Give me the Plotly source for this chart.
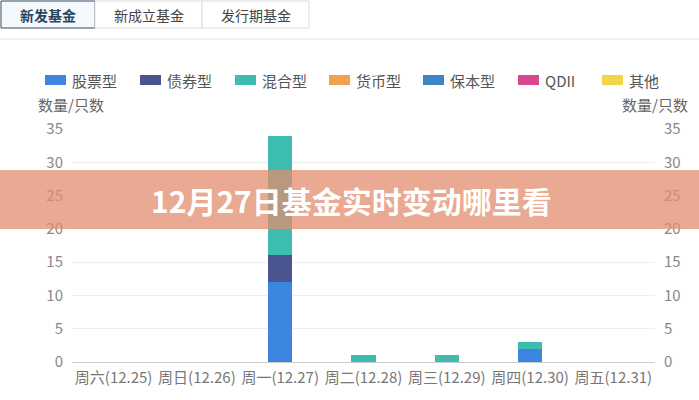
import plotly.graph_objects as go

categories = ["周六(12.25)", "周日(12.26)", "周一(12.27)", "周二(12.28)",
              "周三(12.29)", "周四(12.30)", "周五(12.31)"]
series_names = ["股票型", "债券型", "混合型", "货币型", "保本型", "QDII", "其他"]
stock = [0, 0, 12, 0, 0, 2, 0]
bond = [0, 0, 4, 0, 0, 0, 0]
mixed = [0, 0, 18, 1, 1, 1, 0]
money = [0, 0, 0, 0, 0, 0, 0]
guaranteed = [0, 0, 0, 0, 0, 0, 0]
qdii = [0, 0, 0, 0, 0, 0, 0]
other = [0, 0, 0, 0, 0, 0, 0]
y_ticks = [0, 5, 10, 15, 20, 25, 30, 35]
tabs = ["新发基金", "新成立基金", "发行期基金"]
y_title = "数量/只数"
banner_text = "12月27日基金实时变动哪里看"

colors = ["#3a86e0", "#4a5590", "#3dbdb0", "#f0a050", "#3f86c8", "#d9488f", "#f0d54a"]
values = [stock, bond, mixed, money, guaranteed, qdii, other]

FONT = "Noto Sans CJK SC"
W, H = 699, 400
L, R, T, B = 72, 655, 129, 362


def px(x):
    return (x - L) / (R - L)


def py(y):
    return (B - y) / (B - T)


fig = go.Figure()
for name, vals, col in zip(series_names, values, colors):
    fig.add_trace(go.Bar(x=categories, y=vals, name=name, marker_color=col,
                         marker_line_width=0, width=0.29))
# invisible trace for right axis
fig.add_trace(go.Scatter(x=categories, y=mixed, yaxis="y2", mode="markers",
                         marker=dict(opacity=0), showlegend=False, hoverinfo="skip"))

shapes = []
annotations = []
# tabs
tab_edges = [(1, 95), (95, 202), (202, 309)]
for i, (label, (x0, x1)) in enumerate(zip(tabs, tab_edges)):
    shapes.append(dict(type="rect", xref="paper", yref="paper",
                       x0=px(x0), x1=px(x1), y0=py(28), y1=py(1),
                       fillcolor="#f6f9fc" if i == 0 else "#ffffff",
                       line=dict(color="#2f4a66" if i == 0 else "#dddddd", width=1),
                       layer="above"))
    annotations.append(dict(xref="paper", yref="paper", x=px((x0 + x1) / 2), y=py(15),
                            text=f"<b>{label}</b>" if i == 0 else label, showarrow=False,
                            font=dict(family=FONT, size=14,
                                      color="#2a4560" if i == 0 else "#444444"),
                            xanchor="center", yanchor="middle"))
shapes.append(dict(type="line", xref="paper", yref="paper", x0=px(0), x1=px(699),
                   y0=py(39), y1=py(39), line=dict(color="#e3e3e3", width=1)))

# legend (drawn manually for exact spacing)
legend_x = [45, 140, 235, 329, 423, 518, 602]
for name, col, lx in zip(series_names, colors, legend_x):
    shapes.append(dict(type="rect", xref="paper", yref="paper",
                       x0=px(lx), x1=px(lx + 21), y0=py(85), y1=py(75),
                       fillcolor=col, line=dict(width=0)))
    annotations.append(dict(xref="paper", yref="paper", x=px(lx + 25), y=py(80),
                            text=name, showarrow=False, xanchor="left", yanchor="middle",
                            font=dict(family=FONT, size=15, color="#555555")))

# axis titles
annotations.append(dict(xref="paper", yref="paper", x=px(36), y=py(105), text=y_title,
                        showarrow=False, xanchor="left", yanchor="middle",
                        font=dict(family=FONT, size=15, color="#666666")))
annotations.append(dict(xref="paper", yref="paper", x=px(690), y=py(105), text=y_title,
                        showarrow=False, xanchor="right", yanchor="middle",
                        font=dict(family=FONT, size=15, color="#666666")))
# banner
shapes.append(dict(type="rect", xref="paper", yref="paper", x0=px(0), x1=px(699),
                   y0=py(229), y1=py(170), fillcolor="rgba(225,140,110,0.75)",
                   line=dict(width=0), layer="above"))
annotations.append(dict(xref="paper", yref="paper", x=px(351), y=py(200),
                        text=f"<b>{banner_text}</b>", showarrow=False,
                        xanchor="center", yanchor="middle",
                        font=dict(family=FONT, size=30, color="#ffffff")))

fig.update_layout(
    width=W, height=H,
    margin=dict(l=L, r=W - R, t=T, b=H - B, pad=0, autoexpand=False),
    paper_bgcolor="white", plot_bgcolor="white",
    barmode="stack",
    font=dict(family=FONT, color="#666666"),
    showlegend=False,
    xaxis=dict(showgrid=False, tickfont=dict(size=15, color="#777777"),
               showline=True, linecolor="#cccccc", ticks="", ticklabelstandoff=2),
    yaxis=dict(range=[0, 35], tickvals=y_ticks, showgrid=True, gridcolor="#eeeeee",
               zeroline=False, tickfont=dict(size=15, color="#888888"),
               ticklabelstandoff=8, fixedrange=True),
    yaxis2=dict(range=[0, 35], tickvals=y_ticks, overlaying="y", side="right",
                showgrid=False, zeroline=False, tickfont=dict(size=15, color="#888888"),
                ticklabelstandoff=8),
    shapes=shapes, annotations=annotations,
)

fig.write_html("out.html", config={"displayModeBar": False},
               post_script="document.body.style.margin='0';")
